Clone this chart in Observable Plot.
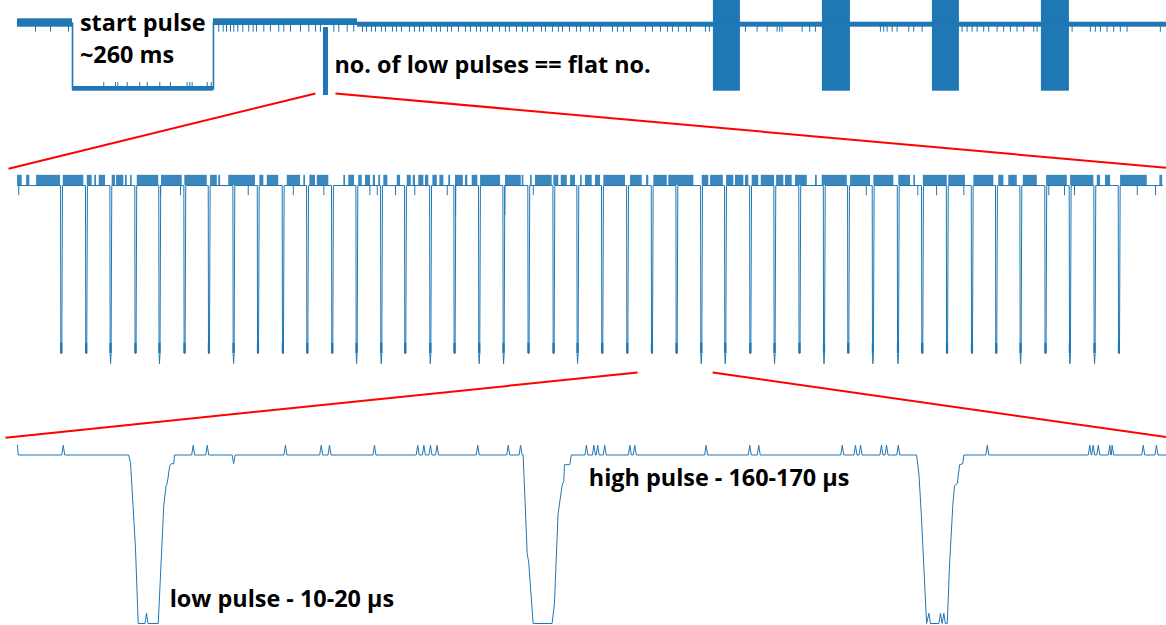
<!DOCTYPE html>
<html><head><meta charset="utf-8">
<script src="https://cdn.jsdelivr.net/npm/d3@7"></script>
<script src="https://cdn.jsdelivr.net/npm/@observablehq/plot@0.6"></script>
<style>
html,body{margin:0;padding:0;background:#fff;}
#wrap{position:relative;width:1166px;height:625px;overflow:hidden;background:#fff;}
#wrap > svg{position:absolute;left:0;margin:0;}
</style></head><body><div id="wrap"></div>
<script>
// ---------- Panel 1: whole frame (time in ms, level in V) ----------
const p1Xlim = [0, 2119];
const p1StepT = [0, 101.4, 101.4, 361.4, 361.4, 2119];
const p1StepV = [3.3, 3.3, 0, 0, 3.3, 3.3];
const p1BandT1 = [0, 101.4, 361.4, 627];
const p1BandT2 = [101.4, 361.4, 627, 2119];
const p1BandLo = [3.09, -0.11, 3.175, 3.09];
const p1BandHi = [3.51, 0.125, 3.51, 3.34];
const p1BlockT1 = [564.3, 1283.4, 1484.4, 1687.3, 1888.3];
const p1BlockT2 = [573.5, 1333.2, 1536.1, 1737.1, 1940.0];
const p1BlockLo = [-0.325, -0.11, -0.11, -0.11, -0.11];
const p1BlockHi = [3.075, 4.6, 4.6, 4.6, 4.6];
const p1TickDownT = [33.2, 60.9, 94.0, 371.2, 379.3, 385.4, 392.8, 398.9, 406.2, 415.5, 426.5, 434.6, 440.7, 454.2, 466.5, 481.8, 491.1, 503.4, 521.9, 537.2, 549.5, 558.7, 583.3, 592.5, 608.0, 620.1, 636.2, 643.6, 652.8, 660.2, 671.2, 678.6, 691.5, 698.9, 708.1, 722.8, 732.1, 741.3, 748.7, 763.4, 772.6, 780.0, 792.9, 800.3, 813.2, 826.1, 835.3, 846.4, 853.8, 866.7, 875.9, 888.8, 899.9, 907.2, 920.2, 931.2, 940.4, 951.5, 966.3, 973.6, 986.5, 997.6, 1005.0, 1017.9, 1030.8, 1038.2, 1054.8, 1062.1, 1075.1, 1097.2, 1106.4, 1117.5, 1130.4, 1158.0, 1170.9, 1185.7, 1198.6, 1207.8, 1218.9, 1233.6, 1241.0, 1268.7, 1276.0, 1342.4, 1364.0, 1382.4, 1400.9, 1405.7, 1410.1, 1447.0, 1461.0, 1471.5, 1591.4, 1597.5, 1603.7, 1613.0, 1622.2, 1643.6, 1652.8, 1668.3, 1742.0, 1751.2, 1760.5, 1769.7, 1781.9, 1791.1, 1806.6, 1818.7, 1831.1, 1843.4, 1855.6, 1874.1, 1880.3, 1944.9, 1978.6, 1987.8, 1997.1, 2009.4, 2021.6, 2033.9, 2046.3, 2107.7];
const p1TickDownTip = 2.84;
const p1TickUpT = [159.1, 180.7, 185.0, 202.3, 225.5, 239.2, 262.4, 282.1, 312.9, 317.7, 322.1, 349.8, 357.2];
const p1TickUpTip = 0.325;
const p1Zoom = [549.5, 586.4];
const p1ZoomLevel = -0.225;

// ---------- Panel 2: the data packet (time in µs) ----------
const p2Xlim = [-66, 8453];
const p2Ytop = 3.63;
const p2End = 8359;
const p2PulseT = [314, 496, 674, 856, 1031, 1214, 1392, 1572, 1750, 1932, 2110, 2292, 2470, 2650, 2825, 3008, 3185, 3365, 3543, 3725, 3908, 4083, 4263, 4446, 4626, 4806, 4986, 5161, 5344, 5521, 5703, 5882, 6059, 6239, 6422, 6599, 6780, 6962, 7139, 7317, 7499, 7677, 7857, 8035];
const p2PulseMin = [0, 0, -0.2, 0, -0.2, 0, 0, -0.2, 0, 0, 0, 0, -0.2, -0.2, 0, -0.2, 0, -0.2, -0.2, 0, 0, -0.2, 0, 0, 0, 0, -0.2, -0.2, 0, -0.2, 0, -0.2, 0, -0.2, -0.2, 0, 0, 0, 0, -0.2, 0, -0.2, -0.2, 0];
const p2PulseShapeDt = [0, 2, 5, 9, 14];
const p2PulseFloor = 0.2;
const p2NoiseT1 = [0, 66, 139, 334, 509, 564, 596, 691, 723, 788, 825, 874, 1051, 1221, 1409, 1469, 1542, 1769, 1823, 1969, 2090, 2134, 2188, 2382, 2418, 2491, 2540, 2597, 2637, 2674, 2772, 2845, 2889, 2929, 2978, 3032, 3083, 3148, 3197, 3270, 3319, 3380, 3562, 3684, 3745, 3781, 3915, 3969, 4037, 4110, 4146, 4219, 4280, 4475, 4592, 4645, 4754, 4998, 5059, 5176, 5241, 5314, 5363, 5429, 5541, 5606, 5679, 5825, 5874, 6081, 6251, 6433, 6543, 6612, 6798, 6981, 7163, 7236, 7342, 7512, 7687, 7882, 7942, 8052, 8339];
const p2NoiseT2 = [34, 90, 314, 484, 545, 577, 642, 715, 776, 801, 837, 1031, 1202, 1385, 1458, 1482, 1737, 1798, 1907, 2066, 2102, 2175, 2272, 2394, 2460, 2516, 2577, 2613, 2650, 2703, 2796, 2874, 2905, 2966, 3002, 3064, 3112, 3161, 3254, 3287, 3360, 3526, 3677, 3696, 3757, 3903, 3951, 4013, 4073, 4122, 4195, 4256, 4438, 4560, 4608, 4743, 4937, 5046, 5152, 5229, 5302, 5338, 5411, 5526, 5594, 5655, 5765, 5838, 6057, 6227, 6397, 6519, 6555, 6787, 6920, 7127, 7200, 7298, 7444, 7663, 7857, 7906, 7979, 8247, 8359];
const p2NoiseTop = 3.5;
const p2DipT = [9, 1044, 1190, 1684, 2013, 2236, 2572, 2626, 2759, 2900, 3137, 3197, 3557, 3765, 6196, 6572, 6709, 6908, 7528, 7643, 7716, 8174, 8307];
const p2DipV = [3.1, 3.1, 3.1, 3.1, 3.1, 3.1, 3.1, 3.1, 3.1, 3.1, 3.1, 2.71, 2.71, 3.1, 3.1, 3.1, 3.1, 3.1, 3.1, 3.1, 3.1, 3.1, 3.1];
const p2Zoom = [4526, 5074];
const p2ZoomLevel = -0.373;

// ---------- Panel 3: three bits (time in µs) ----------
const p3Xlim = [-5.6, 541.3];
const p3Ytop = 3.64;
const p3End = 540;
const p3StartT = [0, 0.4];
const p3StartV = [3.49, 3.3];
const p3EdgeT = [52.2, 53.1, 55.4, 56.7, 59.9, 60.6, 61.3, 66.1, 68.7, 69.8, 70.3, 71.5, 72.2, 73.4, 73.7,
  237.4, 239.3, 240.0, 242.1, 251.0, 252.1, 253.8, 255.7, 256.5, 256.8, 259.3, 260.0,
  422.1, 423.2, 424.3, 426.8, 427.9, 428.6, 432.6, 433.3, 434.1, 434.9, 435.6, 436.5, 437.6, 439.1, 439.9, 441.2, 442.3, 443.8, 444.3];
const p3EdgeV = [3.3, 3.15, 1.49, 0, 0, 0.2, 0, 0, 2.31, 2.70, 2.74, 3.09, 3.13, 3.13, 3.3,
  3.3, 1.37, 1.20, 0, 0, 0.39, 2.15, 2.70, 2.80, 3.11, 3.11, 3.3,
  3.3, 2.93, 2.15, 0, 0.2, 0, 0, 0.2, 0, 0.2, 0, 0, 1.17, 2.31, 2.70, 2.74, 3.11, 3.13, 3.3];
const p3SpikeT = [21.5, 82.5, 89.1, 125.8, 142.6, 146.5, 167.6, 187.9, 190.8, 193.9, 197.0, 216.1, 230.4, 236.2, 267.1, 270.6, 272.4, 275.7, 287.5, 289.8, 323.3, 343.8, 348.0, 387.2, 393.4, 395.8, 405.6, 408.0, 413.5, 455.3, 503.4, 505.0, 507.4, 512.8, 513.9, 528.5, 534.7];
const p3SpikePeak = 3.49;
const p3SpikeHalf = 0.7;
const p3DipT = [101.5];
const p3DipV = [3.13];
const HIGH = 3.3;

// ---------- annotations ----------
const labels = ["start pulse\n~260 ms", "no. of low pulses == flat no.", "low pulse - 10-20 µs", "high pulse - 160-170 µs"];

// ---------- layout ----------
const W = 1166;
const BLUE = "#1f77b4";
const TOP = [0, 160, 430];
const H = [100, 210, 195];
const font = {fontFamily: "Open Sans", fontWeight: "bold", fontSize: 23.4, fill: "black", textAnchor: "start", lineAnchor: "top"};

// ---------- build tables ----------
const p1Step = p1StepT.map((t, i) => ({t, v: p1StepV[i]}));
const p1Bands = p1BandT1.map((t, i) => ({t1: t, t2: p1BandT2[i], lo: p1BandLo[i], hi: p1BandHi[i]}));
const p1Blocks = p1BlockT1.map((t, i) => ({t1: t, t2: p1BlockT2[i], lo: p1BlockLo[i], hi: p1BlockHi[i]}));

const p2Trace = [{t: 0, v: HIGH}];
p2PulseT.forEach((t, i) => {
  const vs = [HIGH, 0, p2PulseMin[i], 0, HIGH];
  p2PulseShapeDt.forEach((dt, j) => p2Trace.push({t: t + dt, v: vs[j]}));
});
p2Trace.push({t: p2End, v: HIGH});
const p2Noise = p2NoiseT1.map((t, i) => ({t1: t, t2: p2NoiseT2[i]}));
const p2Dips = p2DipT.map((t, i) => ({t, v: p2DipV[i]}));

const p3Trace = p3StartT.map((t, i) => ({t, v: p3StartV[i]}));
p3EdgeT.forEach((t, i) => p3Trace.push({t, v: p3EdgeV[i]}));
p3SpikeT.forEach(t => p3Trace.push({t: t - p3SpikeHalf, v: HIGH}, {t, v: p3SpikePeak}, {t: t + p3SpikeHalf, v: HIGH}));
p3DipT.forEach((t, i) => p3Trace.push({t: t - p3SpikeHalf, v: HIGH}, {t, v: p3DipV[i]}, {t: t + p3SpikeHalf, v: HIGH}));
p3Trace.push({t: p3End, v: HIGH});
p3Trace.sort((a, b) => a.t - b.t);

// ---------- panels ----------
const p1 = Plot.plot({
  width: W, height: H[0], margin: 0,
  style: {background: "transparent"},
  x: {domain: p1Xlim, range: [17, 1166], axis: null},
  y: {domain: [0, HIGH], range: [88.5, 22.5], axis: null},
  marks: [
    Plot.rect(p1Bands, {x1: "t1", x2: "t2", y1: "lo", y2: "hi", fill: BLUE}),
    Plot.rect(p1Blocks, {x1: "t1", x2: "t2", y1: "lo", y2: "hi", fill: BLUE}),
    Plot.ruleX(p1TickDownT, {x: d => d, y1: 3.2, y2: p1TickDownTip, stroke: BLUE, strokeWidth: 1}),
    Plot.ruleX(p1TickUpT, {x: d => d, y1: 0.05, y2: p1TickUpTip, stroke: BLUE, strokeWidth: 1}),
    Plot.line(p1Step, {x: "t", y: "v", stroke: BLUE, strokeWidth: 1.6}),
    Plot.text([labels[0]], {...font, text: d => d, x: p1StepT[1], y: HIGH, dx: 7.5, dy: -15.2, lineHeight: 32 / 23.4}),
    Plot.text([labels[1]], {...font, text: d => d, x: p1BlockT2[0], y: 0, dx: 6, dy: -33})
  ]
});

const p2 = Plot.plot({
  width: W, height: H[1], margin: 0,
  style: {background: "transparent"},
  x: {domain: p2Xlim, range: [8, 1175], axis: null},
  y: {domain: [0, HIGH], range: [193, 25], axis: null},
  marks: [
    Plot.rect(p2Noise, {x1: "t1", x2: "t2", y1: HIGH, y2: p2NoiseTop, fill: BLUE, fillOpacity: 0.88}),
    Plot.ruleX(p2Dips, {x: "t", y1: HIGH, y2: "v", stroke: BLUE, strokeWidth: 1}),
    Plot.ruleX(p2PulseT, {x: d => d + p2PulseShapeDt[2], y1: p2PulseFloor, y2: 0, stroke: BLUE, strokeWidth: 2.2}),
    Plot.line(p2Trace, {x: "t", y: "v", stroke: BLUE, strokeWidth: 1})
  ]
});

const p3 = Plot.plot({
  width: W, height: H[2], margin: 0,
  style: {background: "transparent"},
  x: {domain: p3Xlim, range: [5, 1170], axis: null},
  y: {domain: [0, HIGH], range: [193, 24.5], axis: null},
  marks: [
    Plot.line(p3Trace, {x: "t", y: "v", stroke: BLUE, strokeWidth: 1}),
    Plot.text([labels[2]], {...font, text: d => d, x: p3EdgeT[7], y: 0, dx: 11.5, dy: -32.8}),
    Plot.text([labels[3]], {...font, text: d => d, x: p3EdgeT[26], y: HIGH, dx: 17.5, dy: 14})
  ]
});

// ---------- zoom connectors, positioned through the panels' own scales ----------
const sx1 = p1.scale("x"), sy1 = p1.scale("y");
const sx2 = p2.scale("x"), sy2 = p2.scale("y");
const sx3 = p3.scale("x"), sy3 = p3.scale("y");
const connectors = [
  {x1: sx1.apply(p1Zoom[0]), y1: TOP[0] + sy1.apply(p1ZoomLevel), x2: sx2.apply(p2Xlim[0]), y2: TOP[1] + sy2.apply(p2Ytop)},
  {x1: sx1.apply(p1Zoom[1]), y1: TOP[0] + sy1.apply(p1ZoomLevel), x2: sx2.apply(p2Xlim[1]), y2: TOP[1] + sy2.apply(p2Ytop)},
  {x1: sx2.apply(p2Zoom[0]), y1: TOP[1] + sy2.apply(p2ZoomLevel), x2: sx3.apply(p3Xlim[0]), y2: TOP[2] + sy3.apply(p3Ytop)},
  {x1: sx2.apply(p2Zoom[1]), y1: TOP[1] + sy2.apply(p2ZoomLevel), x2: sx3.apply(p3Xlim[1]), y2: TOP[2] + sy3.apply(p3Ytop)}
];
const overlay = Plot.plot({
  width: W, height: 625, margin: 0,
  style: {background: "transparent", pointerEvents: "none"},
  x: {type: "identity", axis: null},
  y: {type: "identity", axis: null},
  marks: [Plot.link(connectors, {x1: "x1", y1: "y1", x2: "x2", y2: "y2", stroke: "red", strokeWidth: 2})]
});

const wrap = document.getElementById("wrap");
[p1, p2, p3].forEach((svg, i) => { svg.style.top = TOP[i] + "px"; wrap.appendChild(svg); });
overlay.style.top = "0px";
wrap.appendChild(overlay);
</script></body></html>
